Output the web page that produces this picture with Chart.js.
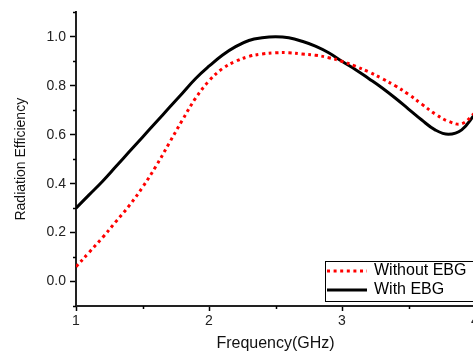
<!DOCTYPE html>
<html>
<head>
<meta charset="utf-8">
<script src="https://cdn.jsdelivr.net/npm/chart.js@4/dist/chart.umd.min.js"></script>
<style>
  html, body { margin: 0; padding: 0; background: #fff; overflow: hidden; }
  #wrap { width: 495px; height: 358px; }
</style>
</head>
<body>
<div id="wrap"><canvas id="chart" width="495" height="358"></canvas></div>
<script>
// frequency samples (GHz)
const freq = [1.0, 1.1, 1.2, 1.3, 1.4, 1.5, 1.6, 1.7, 1.8, 1.9, 2.0, 2.1, 2.2, 2.3, 2.4, 2.5,
  2.6, 2.7, 2.8, 2.9, 3.0, 3.1, 3.2, 3.3, 3.4, 3.5, 3.6, 3.7, 3.8, 3.9, 4.0];
const withoutEBG = [0.06, 0.12, 0.18, 0.245, 0.31, 0.385, 0.47, 0.565, 0.66, 0.75, 0.82, 0.87, 0.90, 0.92, 0.93, 0.935,
  0.935, 0.93, 0.925, 0.915, 0.90, 0.88, 0.857, 0.83, 0.80, 0.765, 0.725, 0.685, 0.655, 0.645, 0.69];
const withEBG = [0.30, 0.355, 0.41, 0.47, 0.53, 0.59, 0.65, 0.71, 0.77, 0.83, 0.88, 0.925, 0.96, 0.985, 0.996, 1.0,
  0.996, 0.982, 0.962, 0.935, 0.90, 0.867, 0.83, 0.792, 0.75, 0.705, 0.66, 0.62, 0.602, 0.62, 0.685];
const xTicks = [1, 2, 3, 4];
const xMinor = [1.5, 2.5, 3.5];
const yTicks = [0.0, 0.2, 0.4, 0.6, 0.8, 1.0];
const yMinor = [-0.1, 0.1, 0.3, 0.5, 0.7, 0.9, 1.1];

const FONT = "'Liberation Sans', Arial, sans-serif";

// --- minor ticks, drawn through the scales ---
const minorTicks = {
  id: "minorTicks",
  afterDraw(chart) {
    const { ctx, scales: { x, y } } = chart;
    ctx.save();
    ctx.strokeStyle = "#000";
    ctx.lineWidth = 1.5;
    ctx.beginPath();
    xMinor.forEach(v => {
      const px = Math.round(x.getPixelForValue(v)) + 0.5;
      ctx.moveTo(px, chart.chartArea.bottom);
      ctx.lineTo(px, chart.chartArea.bottom + 3);
    });
    yMinor.forEach(v => {
      const py = Math.round(y.getPixelForValue(v)) + 0.5;
      ctx.moveTo(chart.chartArea.left, py);
      ctx.lineTo(chart.chartArea.left - 3, py);
    });
    ctx.stroke();
    ctx.restore();
  }
};

// --- boxed legend, bottom right of the plot ---
const boxLegend = {
  id: "boxLegend",
  afterDraw(chart) {
    const { ctx } = chart;
    const left = 325, top = 261, w = 200, h = 40;
    ctx.save();
    ctx.fillStyle = "#fff";
    ctx.fillRect(left, top, w, h);
    ctx.strokeStyle = "#000";
    ctx.lineWidth = 1;
    ctx.strokeRect(left + 0.5, top + 0.5, w, h);
    chart.data.datasets.forEach((ds, i) => {
      const cy = top + 10 + i * 19;
      ctx.beginPath();
      ctx.strokeStyle = ds.borderColor;
      ctx.lineWidth = ds.borderWidth;
      ctx.setLineDash(ds.borderDash || []);
      ctx.moveTo(left + 2, cy);
      ctx.lineTo(left + 42, cy);
      ctx.stroke();
      ctx.setLineDash([]);
      ctx.fillStyle = "#000";
      ctx.font = "16px " + FONT;
      ctx.textBaseline = "middle";
      ctx.fillText(ds.label, left + 49, cy);
    });
    ctx.restore();
  }
};

const toPoints = arr => arr.map((v, i) => ({ x: freq[i], y: v }));

new Chart(document.getElementById("chart"), {
  type: "line",
  data: {
    datasets: [
      { label: "Without EBG", data: toPoints(withoutEBG), borderColor: "#ff0000", borderWidth: 3,
        borderDash: [3, 3.6], borderCapStyle: "butt", pointRadius: 0, tension: 0.4 },
      { label: "With EBG", data: toPoints(withEBG), borderColor: "#000000", borderWidth: 3,
        pointRadius: 0, tension: 0.4 }
    ]
  },
  options: {
    responsive: false,
    animation: false,
    layout: { padding: { left: 0, right: 20, top: 10, bottom: 0 } },
    plugins: { legend: { display: false }, tooltip: { enabled: false } },
    scales: {
      x: {
        type: "linear", min: 1, max: 4,
        afterBuildTicks: s => { s.ticks = xTicks.map(v => ({ value: v })); },
        afterFit: s => { s.height = 52; },
        grid: { drawOnChartArea: false, drawTicks: true, tickLength: 5, tickColor: "#000", tickWidth: 1.5 },
        border: { display: true, color: "#222", width: 2 },
        ticks: { color: "#222", font: { family: FONT, size: 14 }, padding: 2, maxRotation: 0 },
        title: { display: true, text: "Frequency(GHz)", color: "#111", font: { family: FONT, size: 16 }, padding: { top: 4, bottom: 5 } }
      },
      y: {
        min: -0.1, max: 1.1,
        afterBuildTicks: s => { s.ticks = yTicks.map(v => ({ value: v })); },
        afterFit: s => { s.width = 76; },
        grid: { drawOnChartArea: false, drawTicks: true, tickLength: 6, tickColor: "#000", tickWidth: 1.5 },
        border: { display: true, color: "#222", width: 2 },
        ticks: { color: "#222", font: { family: FONT, size: 14 }, padding: 4, callback: v => v.toFixed(1) },
        title: { display: true, text: "Radiation Efficiency", color: "#111", font: { family: FONT, size: 14 }, padding: { top: 13, bottom: 4 } }
      }
    }
  },
  plugins: [minorTicks, boxLegend]
});
</script>
</body>
</html>
